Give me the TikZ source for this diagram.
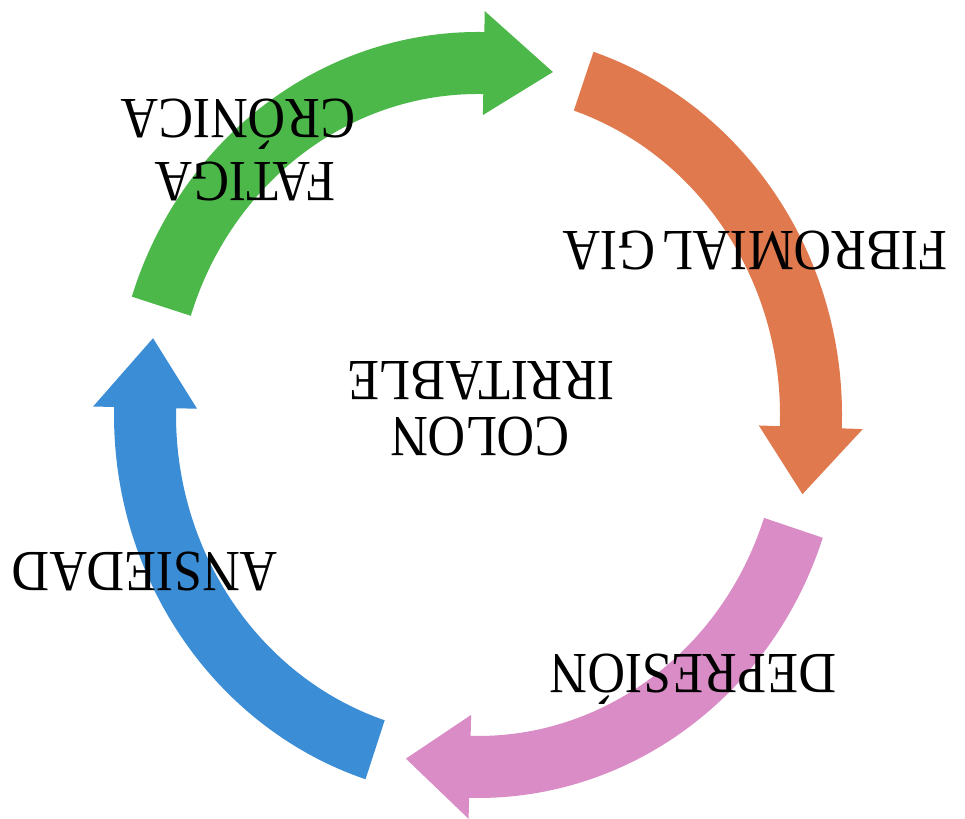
\documentclass[tikz,border=0pt]{standalone}
\usepackage{fontspec}
\setmainfont{Liberation Serif}
\definecolor{cgreen}{HTML}{4DB84A}
\definecolor{corange}{HTML}{E07A4E}
\definecolor{cpink}{HTML}{DA8CC6}
\definecolor{cblue}{HTML}{3B8DD6}
\newcommand\cyclearrow[4]{%
  \fill[#1] ({478+364*cos(#2)},{404+383*sin(#2)})
    arc[start angle=#2,end angle=#3,x radius=364,y radius=383]
    -- ({478+385*cos(#3)},{404+404*sin(#3)})
    -- ({478+333*cos(#4)},{404+352*sin(#4)})
    -- ({478+281*cos(#3)},{404+300*sin(#3)})
    -- ({478+302*cos(#3)},{404+321*sin(#3)})
    arc[start angle=#3,end angle=#2,x radius=302,y radius=321]
    -- cycle;}
\tikzset{lbl/.style={rotate=180,yscale=1.12,anchor=base,inner sep=0pt,
  font=\fontsize{26}{28}\selectfont}}
\begin{document}
\begin{tikzpicture}[x=0.5pt,y=0.5pt]
\useasboundingbox (0,0) rectangle (965,819);
\fill[white] (0,0) rectangle (965,819);
\cyclearrow{cgreen}{162}{89}{77}
\cyclearrow{corange}{71.5}{-2}{-13}
\cyclearrow{cpink}{-18.7}{-91.4}{-102.5}
\cyclearrow{cblue}{252}{178.8}{167.4}
\node[lbl] (fatiga) at (245,656) {FATIGA};
\node[lbl] (cronica) at (238,719) {CRÓNICA};
\node[lbl] (fibro) at (755,587) {FIBROMIAL\kern0.12em GIA};
\node[lbl] (colon) at (480,401) {COLON};
\node[lbl] (irritable) at (481,457) {IRRITABLE};
\node[lbl] (depre) at (693,164) {DEPRESIÓN};
\node[lbl] (ansie) at (145,266) {ANSIEDAD};
\end{tikzpicture}
\end{document}
